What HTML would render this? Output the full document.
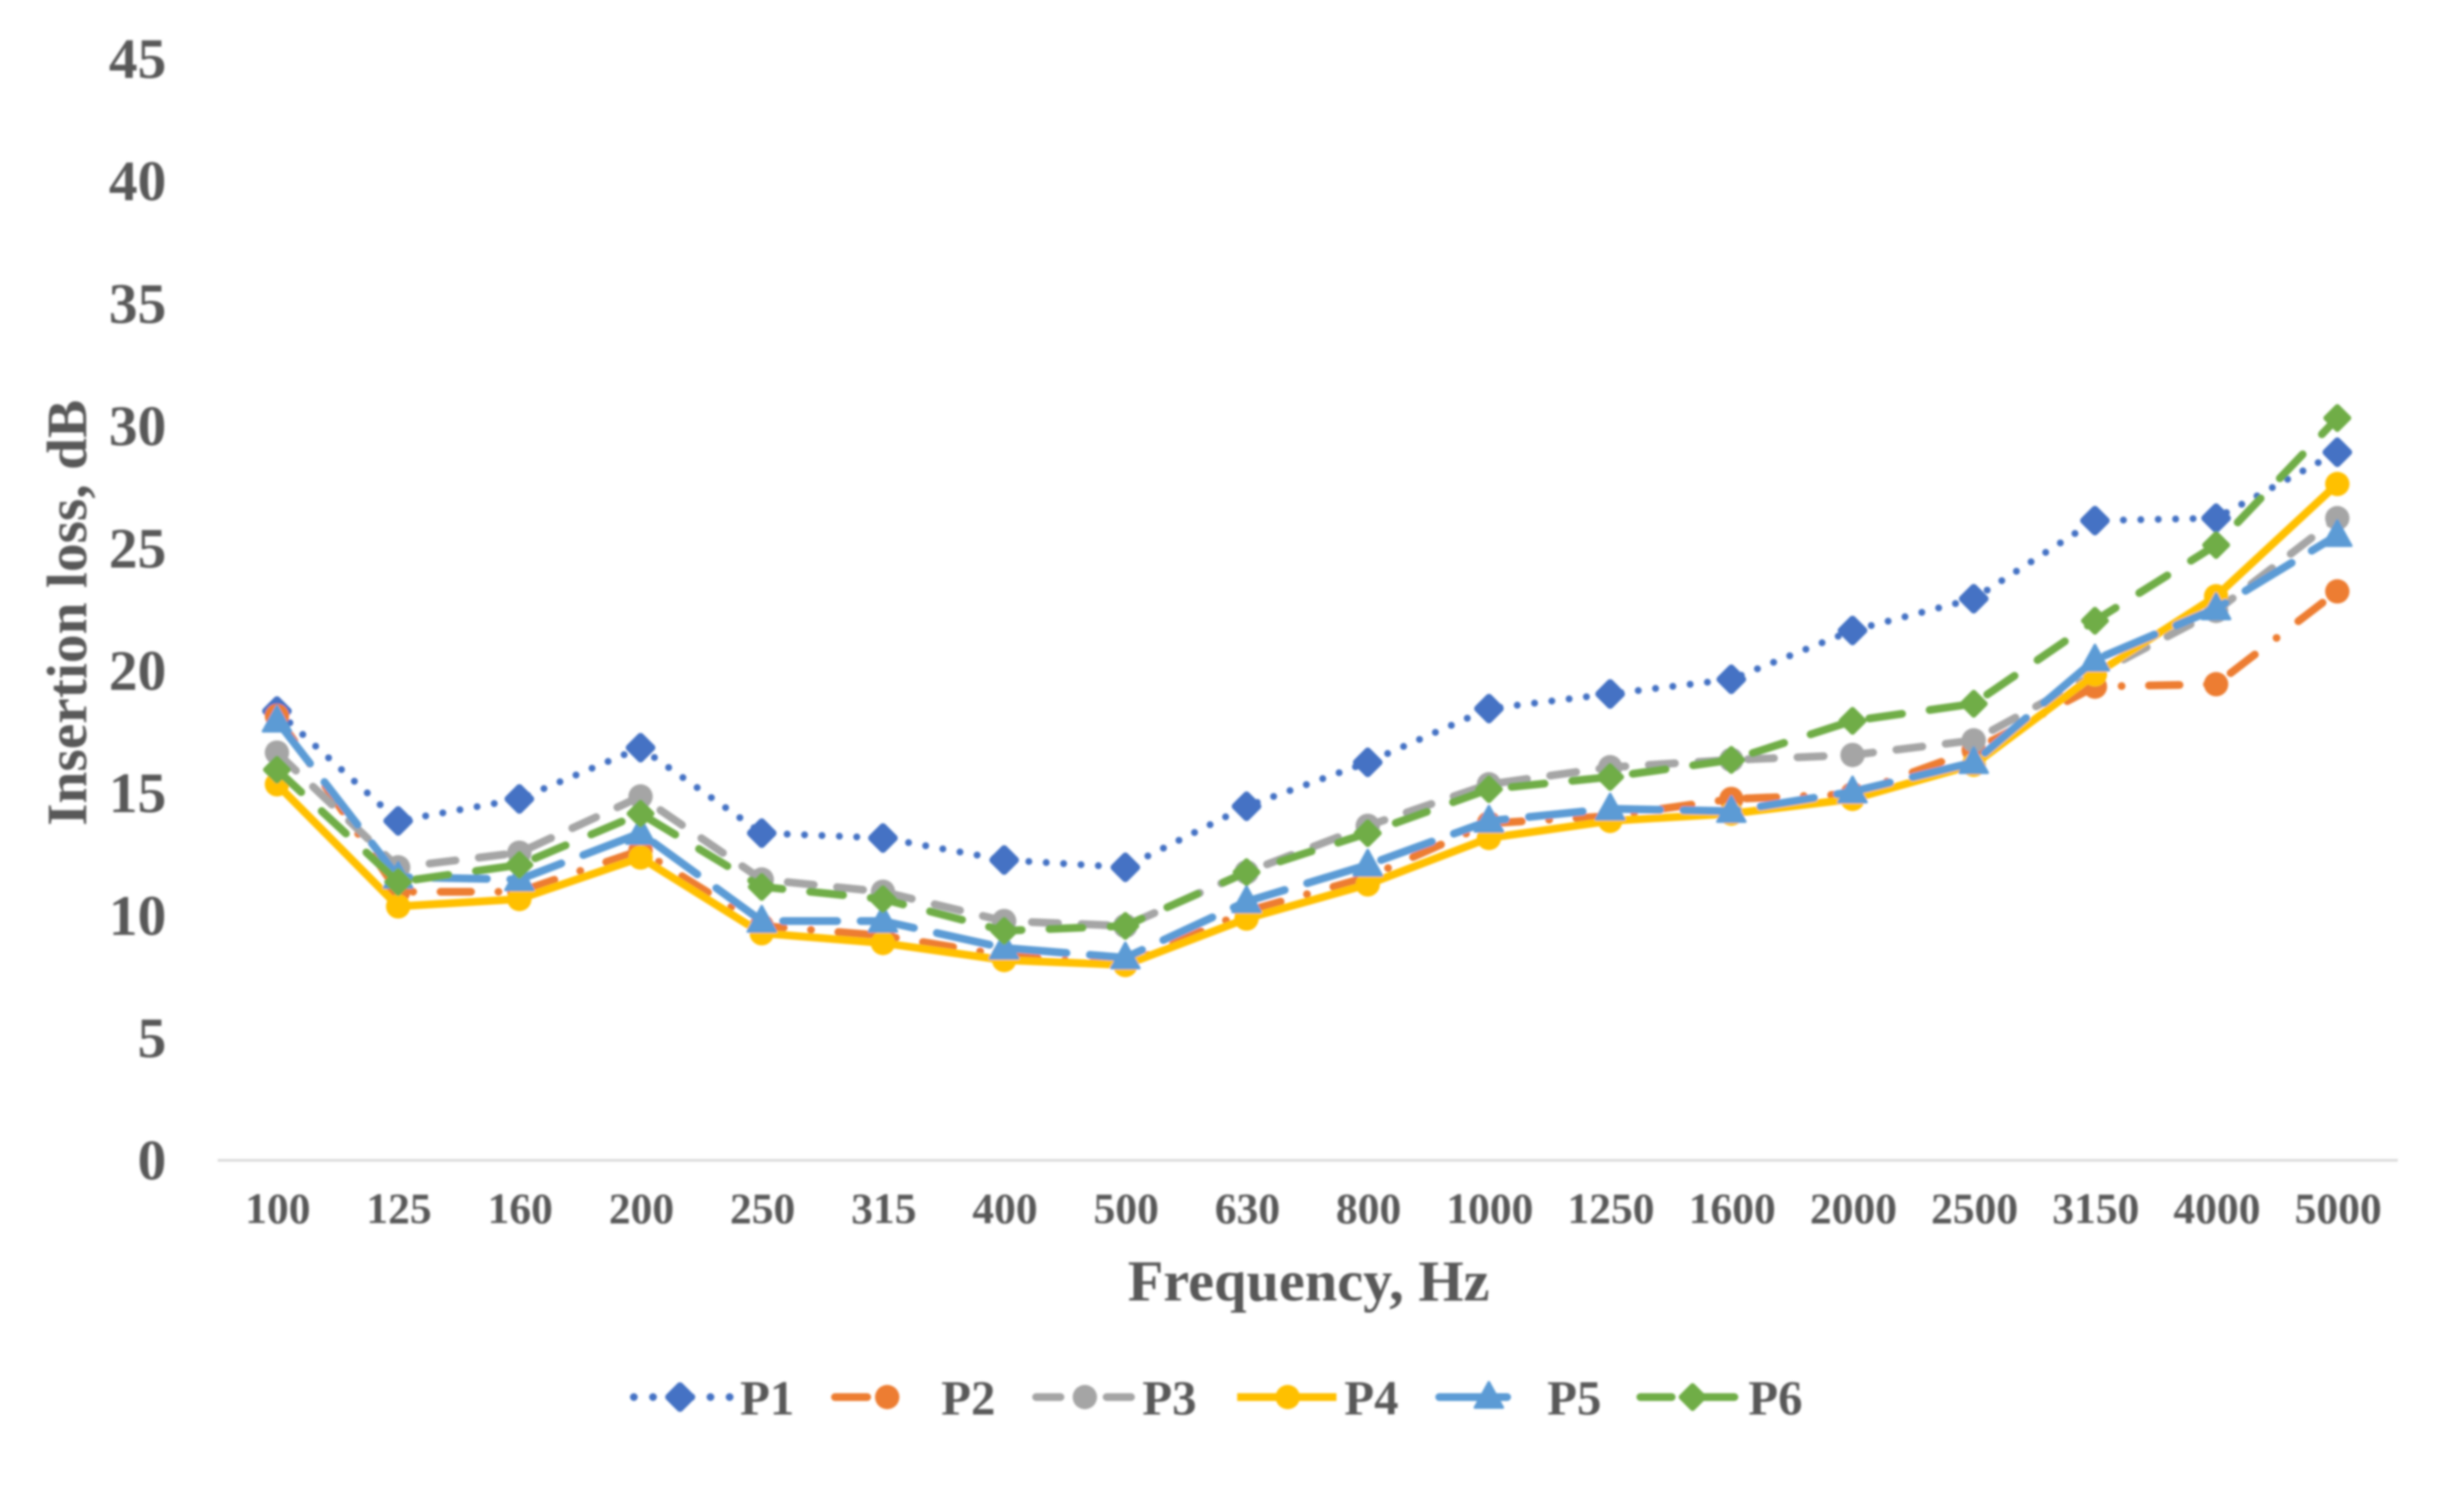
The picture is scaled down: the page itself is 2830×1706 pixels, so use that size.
<!DOCTYPE html>
<html lang="en">
<head>
<meta charset="utf-8">
<title>Insertion loss vs frequency</title>
<style>
html,body{margin:0;padding:0;background:#fff;}
svg{display:block;}
text{font-family:"Liberation Serif",serif;fill:#595959;font-weight:bold;}
</style>
</head>
<body>
<svg id="chart" xmlns="http://www.w3.org/2000/svg" width="2830" height="1706" viewBox="0 0 2830 1706">
  <defs>
    <filter id="soft" x="-5%" y="-5%" width="110%" height="110%"><feGaussianBlur stdDeviation="1.2"/></filter>
  </defs>
  <rect width="2830" height="1706" fill="#ffffff"/>
  <g id="root" filter="url(#soft)">
    <line x1="250" x2="2754" y1="1333" y2="1333" stroke="#d9d9d9" stroke-width="3"/>
    <g id="y-ticks"></g>
    <g id="x-ticks"></g>
    <g id="series"></g>
    <text x="1503" y="1494" font-size="67" text-anchor="middle">Frequency, Hz</text>
    <text transform="translate(99,704) rotate(-90)" font-size="66" text-anchor="middle">Insertion loss, dB</text>
    <g id="legend"></g>
  </g>
</svg>
<script>
const categories = ['100','125','160','200','250','315','400','500','630','800','1000','1250','1600','2000','2500','3150','4000','5000'];
const yTickLabels = [0,5,10,15,20,25,30,35,40,45];
const seriesNames = ['P1','P2','P3','P4','P5','P6'];
const p1Values = [18.4,13.9,14.8,16.9,13.4,13.2,12.3,12.0,14.5,16.3,18.5,19.1,19.7,21.7,23.0,26.2,26.3,29.0];
const p2Values = [18.2,11.0,11.0,12.7,9.6,9.2,8.4,8.0,10.2,11.6,13.8,14.1,14.8,15.0,16.8,19.4,19.5,23.3];
const p3Values = [16.7,12.0,12.6,14.9,11.5,11.0,9.8,9.6,11.8,13.7,15.4,16.1,16.4,16.6,17.2,19.9,22.5,26.3];
const p4Values = [15.4,10.4,10.7,12.4,9.3,8.9,8.2,8.0,9.9,11.3,13.2,13.9,14.2,14.8,16.2,19.9,23.1,27.7];
const p5Values = [18.0,11.6,11.5,13.4,9.8,9.8,8.7,8.3,10.6,12.1,13.9,14.4,14.3,15.1,16.3,20.5,22.6,25.6];
const p6Values = [16.0,11.4,12.1,14.2,11.2,10.7,9.4,9.6,11.8,13.4,15.2,15.7,16.4,18.0,18.7,22.1,25.2,30.4];
const allValues = [p1Values,p2Values,p3Values,p4Values,p5Values,p6Values];

const NS = 'http://www.w3.org/2000/svg';
const colors = ['#4472C4','#ED7D31','#A5A5A5','#FFC000','#5B9BD5','#70AD47'];
const dashes = ['0 20','35 31.5 0 31.5','30 27','','62 27','38 32'];
const widths = [8,9,9,9,9,9];
const markers = ['blob','circle','circle','circle','triangle','diamond'];
const legendKeys = [
  {a:728,b:839,m:781},
  {a:959,b:996,m:1019},
  {a:1190,b:1299,m:1246},
  {a:1421,b:1535,m:1479},
  {a:1653,b:1731,m:1710},
  {a:1884,b:1992,m:1944}
];
const legendLabelX = [850,1081,1312,1544,1777,2008];

function xScale(i){ return 318.1 + i * 139.2; }
function yScale(v){ return 1333 - v * 28.05; }

function mk(tag, attrs, parent){
  const e = document.createElementNS(NS, tag);
  for (const k in attrs) e.setAttribute(k, attrs[k]);
  parent.appendChild(e);
  return e;
}

function drawMarker(kind, cx, cy, color, parent, name){
  let el;
  if (kind === 'circle') {
    el = mk('circle', {cx:cx, cy:cy, r:14, fill:color}, parent);
  } else if (kind === 'triangle') {
    const pts = [[cx,cy-17],[cx+16,cy+12],[cx-16,cy+12]].map(p => p.join(',')).join(' ');
    el = mk('polygon', {points:pts, fill:color, stroke:color, 'stroke-width':3, 'stroke-linejoin':'round'}, parent);
  } else if (kind === 'diamond') {
    const pts = [[cx,cy-13],[cx+13,cy],[cx,cy+13],[cx-13,cy]].map(p => p.join(',')).join(' ');
    el = mk('polygon', {points:pts, fill:color, stroke:color, 'stroke-width':6, 'stroke-linejoin':'round'}, parent);
  } else {
    const pts = [[cx,cy-13],[cx+13,cy],[cx,cy+13],[cx-13,cy]].map(p => p.join(',')).join(' ');
    el = mk('polygon', {points:pts, fill:color, stroke:color, 'stroke-width':8, 'stroke-linejoin':'round'}, parent);
  }
  
  
}

const yG = document.getElementById('y-ticks');
yTickLabels.forEach(function(t){
  const el = mk('text', {x:191, y:yScale(t)+22-t*0.07, 'font-size':66, 'text-anchor':'end'}, yG);
  el.textContent = t;
  
  
});

const xG = document.getElementById('x-ticks');
categories.forEach(function(c, i){
  const el = mk('text', {x:xScale(i)+1, y:1405, 'font-size':50, 'text-anchor':'middle'}, xG);
  el.textContent = c;
  
  
});

const sG = document.getElementById('series');
allValues.forEach(function(vals, s){
  const g = mk('g', {}, sG);
  
  
  const pts = vals.map((v, i) => xScale(i).toFixed(1) + ',' + yScale(v).toFixed(1)).join(' ');
  const line = mk('polyline', {points:pts, fill:'none', stroke:colors[s], 'stroke-width':widths[s], 'stroke-linecap': dashes[s] ? 'round' : 'butt', 'stroke-linejoin':'round'}, g);
  if (dashes[s]) line.setAttribute('stroke-dasharray', dashes[s]);
  
  
  vals.forEach(function(v, i){
    drawMarker(markers[s], xScale(i), yScale(v), colors[s], g, 'point-' + seriesNames[s].toLowerCase());
  });
});

const lG = document.getElementById('legend');
seriesNames.forEach(function(n, s){
  const g = mk('g', {}, lG);
  
  
  const k = legendKeys[s];
  const line = mk('line', {x1:k.a, x2:k.b, y1:1605, y2:1605, stroke:colors[s], 'stroke-width':9, 'stroke-linecap': dashes[s] ? 'round' : 'butt'}, g);
  if (s === 0) line.setAttribute('stroke-dasharray', '0 22');
  if (s === 2) line.setAttribute('stroke-dasharray', '28 53');
  if (s === 4) line.setAttribute('stroke-dasharray', '78 10');
  if (s === 5) line.setAttribute('stroke-dasharray', '36 36');
  
  
  drawMarker(markers[s], k.m, 1605, colors[s], g, 'legend-key-marker');
  const t = mk('text', {x:legendLabelX[s], y:1625, 'font-size':56}, g);
  t.textContent = n;
  
  
});
</script>
</body>
</html>
